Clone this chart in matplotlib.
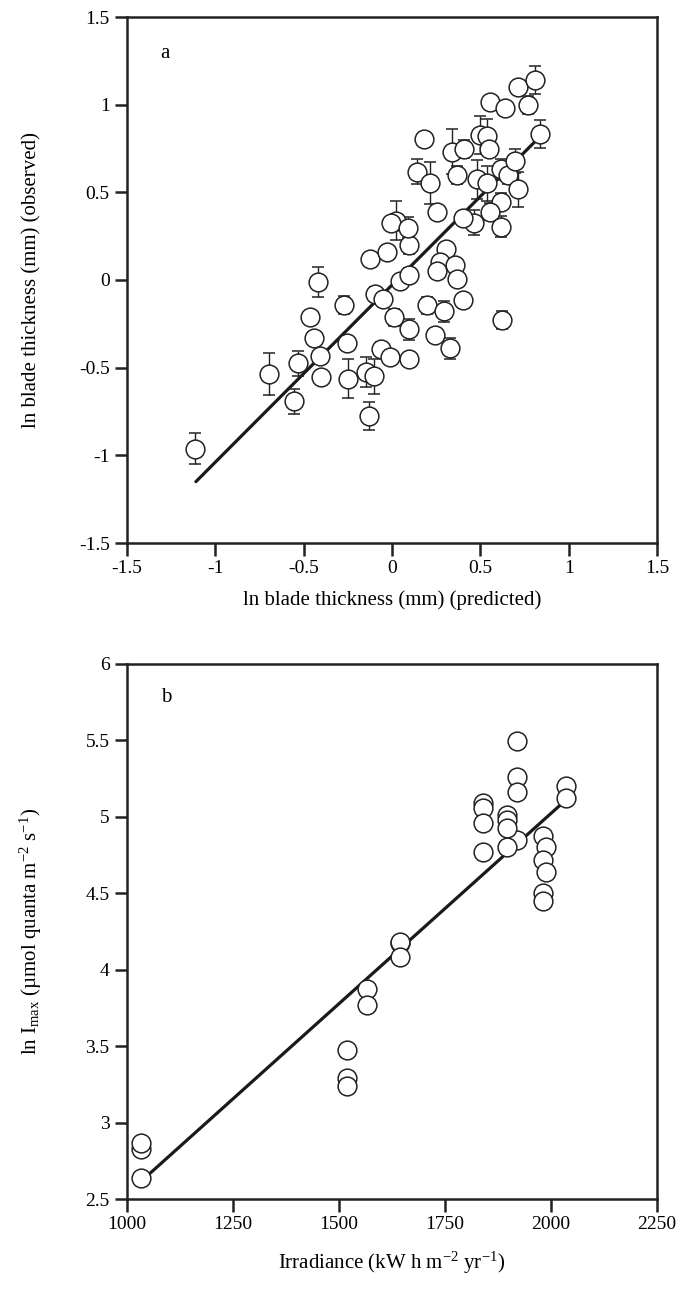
import matplotlib.pyplot as plt

plt.rcParams["font.family"] = "Liberation Serif"
plt.rcParams["mathtext.default"] = "regular"

# panel a: predicted vs observed blade thickness (ln mm), with error bars
pred = [-1.114, -0.699, -0.555, -0.532, -0.420, -0.464, -0.439, -0.407, -0.401, -0.269,
        -0.253, -0.249, -0.126, -0.030, -0.149, -0.104, -0.128, -0.098, -0.050, -0.060,
        -0.010, 0.009, 0.096, 0.096, 0.047, 0.096, 0.096, 0.022, -0.007, 0.088,
        0.200, 0.297, 0.242, 0.326, 0.403, 0.306, 0.269, 0.357, 0.367, 0.253,
        0.623, 0.181, 0.139, 0.215, 0.252, 0.339, 0.405, 0.369, 0.496, 0.538,
        0.547, 0.483, 0.538, 0.619, 0.656, 0.699, 0.712, 0.616, 0.557, 0.466,
        0.401, 0.617, 0.557, 0.642, 0.769, 0.712, 0.807, 0.840]
obs = [-0.962, -0.538, -0.692, -0.475, -0.011, -0.209, -0.333, -0.434, -0.552, -0.144,
       -0.361, -0.563, 0.122, 0.158, -0.525, -0.548, -0.774, -0.080, -0.108, -0.392,
       -0.441, -0.213, -0.281, -0.451, -0.008, 0.027, 0.198, 0.338, 0.323, 0.298,
       -0.145, -0.179, -0.312, -0.390, -0.114, 0.177, 0.104, 0.086, 0.004, 0.051,
       -0.228, 0.803, 0.618, 0.552, 0.386, 0.732, 0.747, 0.599, 0.827, 0.821,
       0.746, 0.574, 0.552, 0.631, 0.600, 0.680, 0.517, 0.447, 0.390, 0.327,
       0.352, 0.304, 1.014, 0.983, 0.998, 1.103, 1.141, 0.833]
obs_err = [0.09, 0.12, 0.07, 0.07, 0.085, 0.0, 0.0, 0.03, 0.0, 0.05,
           0.0, 0.11, 0.0, 0.03, 0.085, 0.1, 0.08, 0.04, 0.0, 0.04,
           0.0, 0.05, 0.06, 0.03, 0.0, 0.04, 0.05, 0.11, 0.0, 0.06,
           0.05, 0.06, 0.0, 0.06, 0.0, 0.0, 0.0, 0.0, 0.0, 0.0,
           0.05, 0.0, 0.07, 0.12, 0.0, 0.13, 0.05, 0.05, 0.11, 0.1,
           0.0, 0.11, 0.1, 0.06, 0.05, 0.07, 0.1, 0.05, 0.05, 0.07,
           0.0, 0.06, 0.0, 0.0, 0.05, 0.0, 0.08, 0.08]
fit_a_x = [-1.11, 0.82]
fit_a_y = [-1.15, 0.80]

# panel b: irradiance vs ln Imax
irr = [1034, 1034, 1034, 1519, 1519, 1519, 1567, 1567, 1643, 1643, 1643,
       1919, 1919, 1919, 1919, 1840, 1840, 1840, 1840, 1897, 1897, 1897, 1897,
       2035, 2035, 1980, 1989, 1980, 1989, 1980, 1980]
imax = [2.635, 2.830, 2.868, 3.477, 3.293, 3.237, 3.874, 3.771, 4.175, 4.183, 4.083,
        5.497, 5.264, 5.161, 4.850, 5.090, 5.057, 4.959, 4.767, 5.013, 4.980, 4.930, 4.806,
        5.205, 5.122, 4.876, 4.806, 4.719, 4.636, 4.501, 4.451]
fit_b_x = [1035, 2035]
fit_b_y = [2.62, 5.11]

fig = plt.figure(figsize=(6.84, 12.93), dpi=100)
ax1 = fig.add_axes([127/684, 1 - 543/1293, 530/684, 526/1293])
ax2 = fig.add_axes([127/684, 1 - 1199/1293, 530/684, 535/1293])

for ax in (ax1, ax2):
    for s in ax.spines.values():
        s.set_linewidth(1.8)
        s.set_color("#222222")
    ax.tick_params(direction="out", length=9, width=1.8, labelsize=14, color="#222222")

# a
ax1.plot(fit_a_x, fit_a_y, color="#1a1a1a", lw=2.3, zorder=1, solid_capstyle="round")
ax1.errorbar(pred, obs, yerr=obs_err, fmt="o", ms=13.5, mfc="white", mec="#222222",
             mew=1.1, ecolor="#222222", elinewidth=1.0, capsize=4, capthick=1.0, zorder=2)
ax1.set_xlim(-1.5, 1.5)
ax1.set_ylim(-1.5, 1.5)
ax1.set_xticks([-1.5, -1, -0.5, 0, 0.5, 1, 1.5])
ax1.set_xticklabels(["-1.5", "-1", "-0.5", "0", "0.5", "1", "1.5"])
ax1.set_yticks([-1.5, -1, -0.5, 0, 0.5, 1, 1.5])
ax1.set_yticklabels(["-1.5", "-1", "-0.5", "0", "0.5", "1", "1.5"])
ax1.set_xlabel("ln blade thickness (mm) (predicted)", fontsize=15, labelpad=9)
ax1.set_ylabel("ln blade thickness (mm) (observed)", fontsize=15, labelpad=27)
ax1.text(-1.31, 1.29, "a", fontsize=15, va="center")

# b
ax2.plot(fit_b_x, fit_b_y, color="#1a1a1a", lw=2.3, zorder=1)
ax2.plot(irr, imax, "o", ms=13.5, mfc="white", mec="#222222", mew=1.1, zorder=2)
ax2.set_xlim(1000, 2250)
ax2.set_ylim(2.5, 6)
ax2.set_xticks([1000, 1250, 1500, 1750, 2000, 2250])
ax2.set_yticks([2.5, 3, 3.5, 4, 4.5, 5, 5.5, 6])
ax2.set_yticklabels(["2.5", "3", "3.5", "4", "4.5", "5", "5.5", "6"])
ax2.set_xlabel("Irradiance (kW h m$^{-2}$ yr$^{-1}$)", fontsize=15, labelpad=12)
ax2.set_ylabel("ln I$_{max}$ (\u00b5mol quanta m$^{-2}$ s$^{-1}$)", fontsize=15, labelpad=30)
ax2.text(1080, 5.78, "b", fontsize=15, va="center")

plt.savefig("out.png", dpi=100)
